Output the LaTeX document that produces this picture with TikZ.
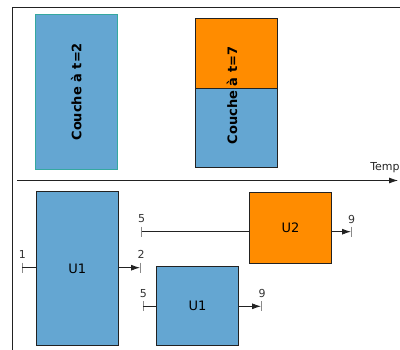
\documentclass[tikz,border=0pt]{standalone}
\usepackage{fontspec}
\setmainfont{DejaVu Sans}
\usetikzlibrary{arrows.meta}
\definecolor{cblue}{HTML}{64A6D2}
\definecolor{corange}{HTML}{FF8C00}
\definecolor{cteal}{HTML}{35A8A0}
\definecolor{cline}{HTML}{222222}
\definecolor{cgray}{HTML}{8A8A8A}
\tikzset{
  box/.style={draw=cline, line width=0.8pt, inner sep=0pt, outer sep=0pt, anchor=north west},
  bluebox/.style={box, fill=cblue},
  orangebox/.style={box, fill=corange},
  boxlab/.style={font=\fontsize{13}{15}\selectfont},
  vlab/.style={font=\fontsize{13}{15}\selectfont\bfseries, rotate=90, inner sep=0pt},
  ticklab/.style={font=\fontsize{11}{13}\selectfont, inner sep=0pt, text=black!80},
  tickline/.style={draw=cgray, line width=0.8pt},
  conn/.style={draw=cline, line width=0.8pt},
  arr/.style={conn, -{Latex[length=9pt,width=6pt]}},
}
\begin{document}
\begin{tikzpicture}[x=1pt,y=-1pt]
\useasboundingbox (0,0) rectangle (400,350);
% frame
\coordinate (f0) at (12,350);
\coordinate (f1) at (12,8);
\coordinate (f2) at (402,8);
\draw[draw=cline, line width=1pt] (f0) -- (f1) -- (f2);
% top boxes
\node[bluebox, draw=cteal, minimum width=82.7, minimum height=155] (ca) at (35,14.3) {};
\node[vlab] (cat) at (ca.center) {Couche à t=2};
\node[orangebox, minimum width=82.3, minimum height=70.7] (cbt) at (195,18) {};
\node[bluebox, minimum width=82.3, minimum height=79] (cbb) at (195,88.7) {};
\node[vlab] (cbtx) at (232,95.5) {Couche à t=7};
% timeline
\coordinate (tl0) at (17,180.5);
\coordinate (tl1) at (398,180.5);
\draw[draw=cline, line width=0.8pt, -{Latex[length=9pt,width=6pt]}] (tl0) -- (tl1);
\node[font=\fontsize{11}{13}\selectfont, anchor=east, inner sep=0pt, text=black!85] (temps) at (399.8,167.5) {Temp};
% lower boxes
\node[bluebox, minimum width=82.3, minimum height=154] (u1a) at (36,191.7) {};
\node[boxlab] (u1at) at (u1a.center) {U1};
\node[orangebox, minimum width=82.4, minimum height=70.6] (u2) at (249.3,192.7) {};
\node[boxlab] (u2t) at (u2.center) {U2};
\node[bluebox, minimum width=82.4, minimum height=78.7] (u1b) at (156.3,266.3) {};
\node[boxlab] (u1bt) at (u1b.center) {U1};
% ticks
\coordinate (t1) at (22.3,267.7);
\coordinate (t2) at (140,267.7);
\coordinate (t5a) at (141.7,231.7);
\coordinate (t9a) at (351,231.7);
\coordinate (t5b) at (143.3,306.3);
\coordinate (t9b) at (261,306.3);
\foreach \t in {t1,t2,t5a,t9a,t5b,t9b}
  \draw[tickline] ([yshift=5pt]\t) -- ([yshift=-5pt]\t);
\node[ticklab] (l1) at ([yshift=13.5pt]t1) {1};
\node[ticklab] (l2) at ([xshift=1pt,yshift=13.5pt]t2) {2};
\node[ticklab] (l5a) at ([yshift=13.5pt]t5a) {5};
\node[ticklab] (l9a) at ([xshift=0.7pt,yshift=12.5pt]t9a) {9};
\node[ticklab] (l5b) at ([yshift=12.5pt]t5b) {5};
\node[ticklab] (l9b) at ([xshift=1pt,yshift=12.5pt]t9b) {9};
% connectors
\draw[conn] (t1) -- (t1 -| u1a.west);
\draw[arr] (t2 -| u1a.east) -- (t2);
\draw[conn] (t5a) -- (t5a -| u2.west);
\draw[arr] (t9a -| u2.east) -- (t9a);
\draw[conn] (t5b) -- (t5b -| u1b.west);
\draw[arr] (t9b -| u1b.east) -- (t9b);
\end{tikzpicture}
\end{document}
